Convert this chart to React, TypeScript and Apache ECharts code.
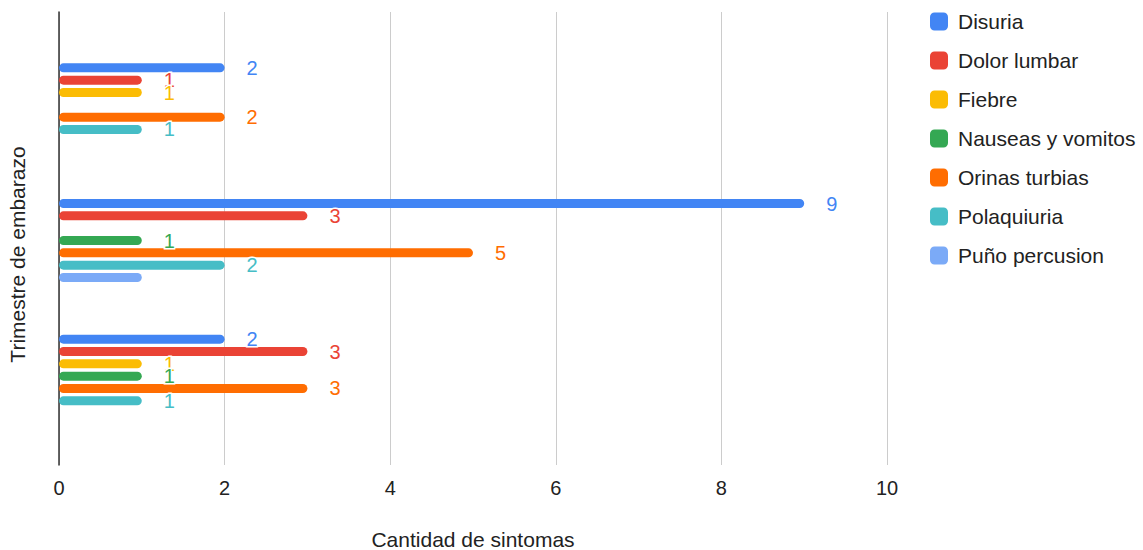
import React, { useEffect, useRef } from "react";
import * as echarts from "echarts";

const categories = ["Primer trimestre", "Segundo trimestre", "Tercer trimestre"];
const seriesNames = [
  "Disuria",
  "Dolor lumbar",
  "Fiebre",
  "Nauseas y vomitos",
  "Orinas turbias",
  "Polaquiuria",
  "Puño percusion",
];
const disuria = [2, 9, 2];
const dolorLumbar = [1, 3, 3];
const fiebre = [1, null, 1];
const nauseas = [null, 1, 1];
const orinasTurbias = [2, 5, 3];
const polaquiuria = [1, 2, 1];
const punoPercusion = [null, 1, null];
const hiddenLabels = [[], [], [], [], [], [], [1]];
const xTicks = [0, 2, 4, 6, 8, 10];

const colors = ["#4285F4", "#EA4335", "#FBBC04", "#34A853", "#FF6D01", "#46BDC6", "#7BAAF7"];
const allData = [disuria, dolorLumbar, fiebre, nauseas, orinasTurbias, polaquiuria, punoPercusion];
const FONT = "Arial, 'Liberation Sans', sans-serif";

export default function App() {
  const ref = useRef<HTMLDivElement>(null);
  useEffect(() => {
    document.body.style.margin = "0";
    const chart = echarts.init(ref.current!, null, { renderer: "svg" });
    chart.setOption({
      animation: false,
      textStyle: { fontFamily: FONT },
      legend: {
        orient: "vertical",
        left: 925,
        top: 6,
        itemWidth: 18,
        itemHeight: 18,
        itemGap: 18,
        icon: "roundRect",
        textStyle: { fontSize: 21, lineHeight: 21, color: "#222", fontFamily: FONT, padding: [0, 0, 0, 5] },
        data: seriesNames,
      },
      grid: [
        { left: 59, right: 256, top: 12, bottom: 85, outerBoundsMode: "none", containLabel: false },
        { left: 59, right: 256, top: 37, bottom: 106, outerBoundsMode: "none", containLabel: false },
      ],
      xAxis: [
        {
          gridIndex: 0,
          type: "value",
          min: xTicks[0],
          max: xTicks[xTicks.length - 1],
          interval: 2,
          axisLine: { show: false },
          axisTick: { show: false },
          splitLine: { show: true, lineStyle: { color: "#cccccc", width: 1 } },
          axisLabel: { fontSize: 20, color: "#222", margin: 12.5, fontFamily: FONT },
          name: "Cantidad de sintomas",
          nameLocation: "middle",
          nameGap: 64,
          nameTextStyle: { fontSize: 21, color: "#222", fontFamily: FONT },
        },
        {
          gridIndex: 1,
          type: "value",
          min: 0,
          max: 10,
          show: false,
        },
      ],
      yAxis: [
        {
          gridIndex: 0,
          type: "category",
          data: categories,
          axisLine: { show: true, lineStyle: { color: "#333", width: 1.5 } },
          axisTick: { show: false },
          axisLabel: { show: false },
          splitLine: { show: false },
          name: "Trimestre de embarazo",
          nameLocation: "middle",
          nameGap: 31,
          nameRotate: 90,
          nameTextStyle: { fontSize: 21, color: "#222", fontFamily: FONT, padding: [0, 32, 0, 0] },
        },
        {
          gridIndex: 1,
          type: "category",
          data: categories,
          inverse: true,
          show: false,
        },
      ],
      series: seriesNames.map((name, i) => ({
        name,
        type: "bar",
        xAxisIndex: 1,
        yAxisIndex: 1,
        barWidth: 9,
        barGap: "37%",
        itemStyle: { color: colors[i], borderRadius: 5 },
        label: {
          show: true,
          position: "right",
          distance: 22,
          fontSize: 20,
          color: colors[i],
          fontFamily: FONT,
          textBorderColor: "#fff",
          textBorderWidth: 3,
        },
        data: allData[i].map((v, j) =>
          (hiddenLabels[i] as number[]).includes(j)
            ? { value: v, label: { show: false } }
            : v
        ),
      })),
    });
    return () => chart.dispose();
  }, []);
  return <div ref={ref} style={{ width: 1143, height: 550 }} />;
}
